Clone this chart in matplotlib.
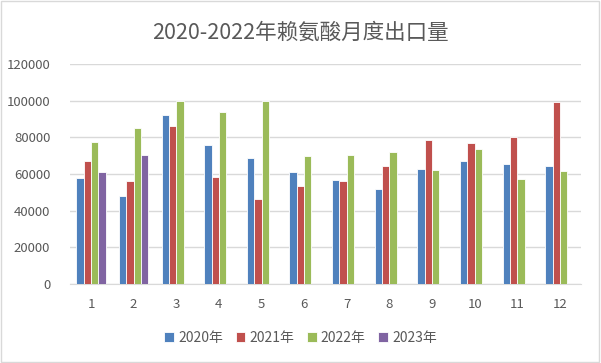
import numpy as np
import matplotlib
matplotlib.use('Agg')
import matplotlib.pyplot as plt
from matplotlib.patches import Rectangle

plt.rcParams['font.family'] = ['Noto Sans CJK SC', 'DejaVu Sans']

# data
months = ['1', '2', '3', '4', '5', '6', '7', '8', '9', '10', '11', '12']
y2020 = [58000, 48000, 92400, 75800, 68900, 61300, 56700, 52000, 62700, 67300, 65400, 64400]
y2021 = [67300, 56200, 86200, 58500, 46400, 53600, 56200, 64400, 78500, 76700, 80200, 99300]
y2022 = [77600, 85100, 100000, 93800, 100000, 69800, 70400, 72200, 62200, 73400, 57300, 61800]
y2023 = [61100, 70400]
labels = ['2020年', '2021年', '2022年', '2023年']
colors = ['#4F81BD', '#C0504D', '#9BBB59', '#8064A2']

fig = plt.figure(figsize=(6.01, 3.63), dpi=100)
ax = fig.add_axes([0.116, 0.2176, 0.851, 0.606])

x = np.arange(1, 13)
w = 0.172
series = [y2020, y2021, y2022, y2023]
for k, vals in enumerate(series):
    xs = x[:len(vals)] + (k - 1.5) * w
    ax.bar(xs, vals, width=w, color=colors[k], edgecolor='white', linewidth=0.6,
           label=labels[k], zorder=3)

ax.set_xlim(0.5, 12.5)
ax.set_ylim(0, 120000)
ax.set_yticks(range(0, 120001, 20000))
ax.set_xticks(x)
ax.set_xticklabels(months)
ax.grid(axis='y', color='#D9D9D9', linewidth=1, zorder=0)
for s in ['top', 'right', 'left']:
    ax.spines[s].set_visible(False)
ax.spines['bottom'].set_color('#D9D9D9')
ax.tick_params(length=0, colors='#595959', labelsize=9.5)
ax.tick_params(axis='y', pad=14)
ax.tick_params(axis='x', pad=10)

fig.suptitle('2020-2022年赖氨酸月度出口量', y=0.94, fontsize=15.5, color='#595959')

leg = fig.legend(loc='lower center', bbox_to_anchor=(0.5, 0.015), ncol=4, frameon=False,
                 fontsize=10, handlelength=0.7, handleheight=0.7, handletextpad=0.3,
                 columnspacing=0.9, labelcolor='#595959')

fig.patches.append(Rectangle((0.002, 0.003), 0.995, 0.993, transform=fig.transFigure,
                             fill=False, edgecolor='#D9D9D9', linewidth=1))

fig.savefig('out.png', dpi=100)
